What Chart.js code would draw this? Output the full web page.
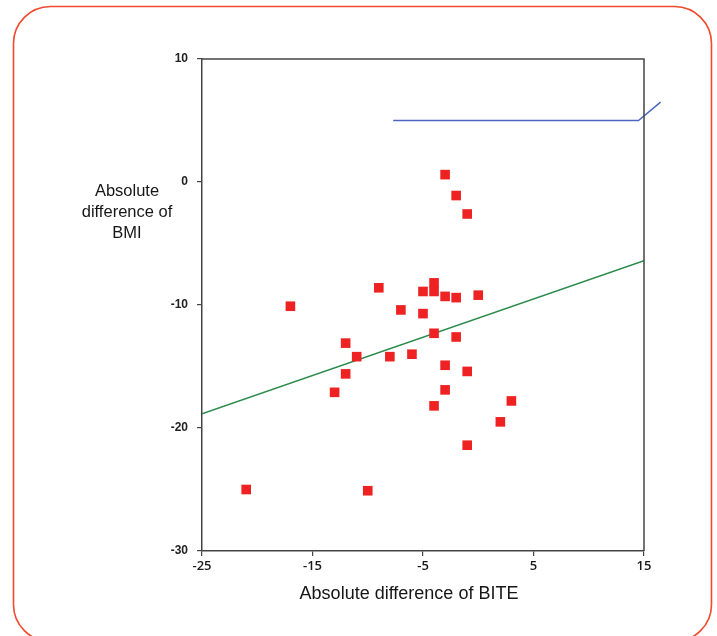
<!DOCTYPE html>
<html>
<head>
<meta charset="utf-8">
<script src="https://cdn.jsdelivr.net/npm/chart.js@4"></script>
<style>
  html, body { margin: 0; padding: 0; background: #ffffff; }
  #c { display: block; }
</style>
</head>
<body>
<canvas id="c" width="717" height="636"></canvas>
<script>
// ---- data ----
const biteDiff = [-3, -2, -1, -17, -9, -5, -4, -4, -3, -2, 0, -7, -5, -4, -2,
                  -12, -11, -8, -6, -3, -1, -12, -13, -3, -4, 3, 2, -1, -21, -10];
const bmiDiff  = [0.6, -1.1, -2.6, -10.1, -8.6, -8.9, -8.2, -8.9, -9.3, -9.4, -9.2, -10.4, -10.7, -12.3, -12.6,
                  -13.1, -14.2, -14.2, -14.0, -14.9, -15.4, -15.6, -17.1, -16.9, -18.2, -17.8, -19.5, -21.4, -25.0, -25.1];
const fitX = [-25, 15];
const fitY = [-18.85, -6.4];
const refX = [-7.7, 14.5, 16.5];
const refY = [5.0, 5.0, 6.5];
const xTicks = [-25, -15, -5, 5, 15];
const yTicks = [10, 0, -10, -20, -30];
const yTitle = ['Absolute', 'difference of', 'BMI'];
const xTitle = 'Absolute difference of BITE';

const pts = biteDiff.map((x, i) => ({ x: x, y: bmiDiff[i] }));
const fitPts = fitX.map((x, i) => ({ x: x, y: fitY[i] }));
const refPts = refX.map((x, i) => ({ x: x, y: refY[i] }));

const decor = {
  id: 'decor',
  beforeDraw(chart) {
    const ctx = chart.ctx;
    ctx.save();
    ctx.fillStyle = '#ffffff';
    ctx.fillRect(0, 0, chart.width, chart.height);
    // outer rounded frame
    const x0 = 13.5, y0 = 6.5, x1 = 711.5, y1 = 641.5, r = 37;
    ctx.beginPath();
    ctx.moveTo(x0 + r, y0);
    ctx.lineTo(x1 - r, y0);
    ctx.arcTo(x1, y0, x1, y0 + r, r);
    ctx.lineTo(x1, y1 - r);
    ctx.arcTo(x1, y1, x1 - r, y1, r);
    ctx.lineTo(x0 + r, y1);
    ctx.arcTo(x0, y1, x0, y1 - r, r);
    ctx.lineTo(x0, y0 + r);
    ctx.arcTo(x0, y0, x0 + r, y0, r);
    ctx.closePath();
    ctx.strokeStyle = '#ef4a2e';
    ctx.lineWidth = 1.6;
    ctx.stroke();
    ctx.restore();
  },
  afterDraw(chart) {
    const ctx = chart.ctx;
    const a = chart.chartArea;
    ctx.save();
    // top and right frame of plot box
    ctx.strokeStyle = '#444444';
    ctx.lineWidth = 1.5;
    ctx.beginPath();
    ctx.moveTo(a.left, a.top);
    ctx.lineTo(a.right, a.top);
    ctx.lineTo(a.right, a.bottom);
    ctx.stroke();
    // titles
    ctx.fillStyle = '#161616';
    ctx.textAlign = 'center';
    ctx.textBaseline = 'middle';
    ctx.font = '16.5px "Liberation Sans", Arial, sans-serif';
    const ys = [191, 212, 233];
    yTitle.forEach((t, i) => ctx.fillText(t, 127, ys[i]));
    ctx.font = '18px "Liberation Sans", Arial, sans-serif';
    ctx.fillText(xTitle, 409, 594);
    ctx.restore();
  }
};

new Chart(document.getElementById('c'), {
  type: 'scatter',
  data: {
    datasets: [
      {
        label: 'points',
        data: pts,
        pointStyle: 'rect',
        pointRadius: 6.8,
        pointHoverRadius: 6.8,
        backgroundColor: '#ee2222',
        borderColor: '#ee2222',
        borderWidth: 0
      },
      {
        type: 'line',
        label: 'fit',
        data: fitPts,
        borderColor: '#2a8a4a',
        borderWidth: 1.5,
        pointRadius: 0,
        fill: false
      },
      {
        type: 'line',
        label: 'ref',
        data: refPts,
        borderColor: '#4a66c0',
        borderWidth: 1.5,
        pointRadius: 0,
        fill: false,
        clip: false
      }
    ]
  },
  options: {
    responsive: false,
    animation: false,
    layout: { padding: { left: 142, right: 73, top: 59, bottom: 55 } },
    plugins: {
      legend: { display: false },
      tooltip: { enabled: false }
    },
    scales: {
      x: {
        type: 'linear',
        min: -25, max: 15,
        afterFit(s) { s.height = 30; },
        afterBuildTicks(s) { s.ticks = xTicks.map(v => ({ value: v })); },
        border: { display: true, color: '#444444', width: 1.5 },
        grid: { display: true, drawOnChartArea: false, drawTicks: true, tickLength: 5, color: '#444444', lineWidth: 1.2 },
        ticks: {
          color: '#1a1a1a',
          padding: 2,
          maxRotation: 0,
          font: { family: '"Open Sans", "Liberation Sans", sans-serif', size: 13, weight: '600' }
        }
      },
      y: {
        type: 'linear',
        min: -30, max: 10,
        afterFit(s) { s.width = 60; },
        afterBuildTicks(s) { s.ticks = yTicks.map(v => ({ value: v })); },
        border: { display: true, color: '#444444', width: 1.5 },
        grid: { display: true, drawOnChartArea: false, drawTicks: true, tickLength: 5, color: '#444444', lineWidth: 1.2 },
        ticks: {
          color: '#222222',
          padding: 9,
          font: { family: '"Liberation Sans", Arial, sans-serif', size: 12, weight: 'bold' }
        }
      }
    }
  },
  plugins: [decor]
});
</script>
</body>
</html>
